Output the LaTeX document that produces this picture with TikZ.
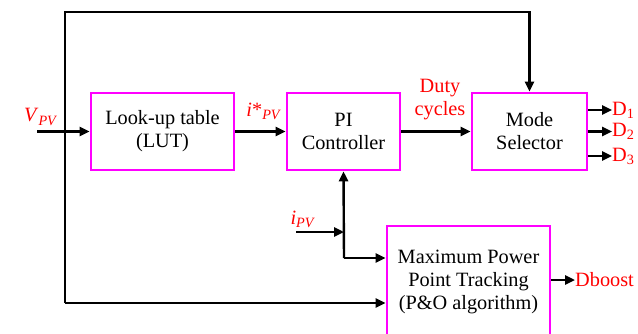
\documentclass[tikz,border=0pt]{standalone}
\usepackage{fontspec}
\setmainfont{Liberation Serif}
\usetikzlibrary{arrows.meta, positioning, calc}

\definecolor{boxpink}{RGB}{255,0,255}
\definecolor{sigred}{RGB}{255,0,0}

\tikzset{
  block/.style={draw=boxpink, line width=2.6pt, align=center, inner sep=0pt,
                font=\fontsize{20.3}{23}\selectfont},
  sig/.style={text=sigred, align=center, inner sep=0pt,
              font=\fontsize{20.3}{23}\selectfont},
  wire/.style={line width=2.4pt},
  arr/.style={wire, -{Triangle[length=10pt, width=9pt]}},
}

\begin{document}
\begin{tikzpicture}[x=1pt, y=-1pt]
  \useasboundingbox (0,0) rectangle (638,333);
  \clip (0,0) rectangle (638,333);

  % blocks
  \node[block, minimum width=143pt, minimum height=77pt] (lut)  at (162.5,131.5) {Look-up table\\(LUT)};
  \node[block, minimum width=113pt, minimum height=77pt] (pi)   at (343.5,131.5) {PI\\Controller};
  \node[block, minimum width=115pt, minimum height=77pt] (mode) at (529.5,131.5) {Mode\\Selector};
  \node[block, minimum width=163pt, minimum height=112pt] (mppt) at (468.5,282) {Maximum Power\\Point Tracking\\(P\&O algorithm)};

  % free ends and corners
  \coordinate (vin) at (37,131.5);
  \coordinate (tl)  at (65,12);
  \coordinate (bl)  at (65,303);
  \coordinate (fb)  at (344,258);
  \coordinate (iin) at (296,232);

  % labels
  \node[sig] (vpv)  at (41,117)  {\textit{V}\textsubscript{\textit{PV}}};
  \node[sig] (iref) at (264,111) {\textit{i}*\textsubscript{\textit{PV}}};
  \node[sig] (duty) at (440,100) {Duty\\cycles};
  \node[sig] (ipv)  at (303,219) {\textit{i}\textsubscript{\textit{PV}}};
  \node[sig, anchor=west] (dbst) at (575,280) {Dboost};

  % main path
  \draw[arr] (vin) -- (lut.west);
  \draw[arr] (lut.east) -- (pi.west);
  \draw[arr] (pi.east) -- (mode.west);

  % voltage feed round the top and bottom
  \draw[arr] (bl) -- (tl) -| (mode.north);
  \draw[arr] (bl) -- (bl -| mppt.west);

  % current feed
  \draw[arr] (fb) -- (pi.south);
  \draw[arr] (fb) -- (fb -| mppt.west);
  \draw[arr] (iin) -- (iin -| fb);

  % outputs
  \foreach \yy/\n in {110/1, 131.5/2, 156/3} {
    \node[sig, anchor=west] (d\n) at (612,\yy) {D\textsubscript{\n}};
    \draw[arr] (mode.east |- d\n) -- (d\n.west);
  }
  \draw[arr] (mppt.east |- dbst) -- (dbst.west);
\end{tikzpicture}
\end{document}
